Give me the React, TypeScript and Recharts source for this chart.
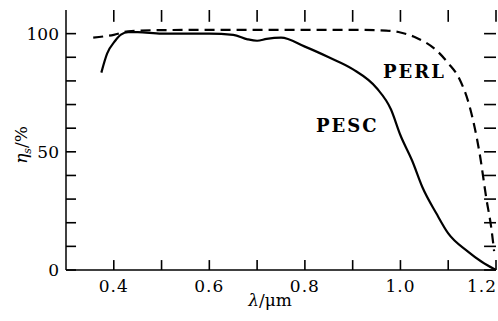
import React from 'react';
import { LineChart, Line, XAxis, YAxis, ReferenceLine } from 'recharts';

// wavelength ticks (um) and which of them get a label
const xTicks = [0.4, 0.5, 0.6, 0.7, 0.8, 0.9, 1.0, 1.1, 1.2];
const xLabels = ['0.4', '0.6', '0.8', '1.0', '1.2'];
const yTicks = [0, 10, 20, 30, 40, 50, 60, 70, 80, 90, 100];
const yLabels = ['0', '50', '100'];

// PESC, solid curve
const pescLambda = [0.374, 0.386, 0.403, 0.415, 0.43, 0.45, 0.5, 0.55, 0.6, 0.65, 0.68, 0.7, 0.72, 0.75, 0.8, 0.85, 0.9, 0.95, 0.98, 1.0, 1.025, 1.046, 1.075, 1.1, 1.14, 1.17, 1.2];
const pescEta = [83.5, 91.5, 97, 99.6, 100.6, 100.6, 100, 100, 100, 99.5, 97.6, 97, 97.8, 98.3, 94.5, 90, 85, 77, 68, 57, 46, 35, 24, 15.5, 8, 3.5, 0];

// PERL, dashed curve
const perlLambda = [0.357, 0.4, 0.43, 0.5, 0.6, 0.7, 0.8, 0.9, 0.97, 1.0, 1.033, 1.075, 1.1, 1.123, 1.145, 1.166, 1.18, 1.19, 1.196];
const perlEta = [98.3, 99.5, 101, 101.5, 101.6, 101.6, 101.6, 101.6, 101.3, 100.5, 98.3, 93, 87.5, 81, 69, 49, 30, 18, 8];

const pesc = pescLambda.map((l, i) => ({ lambda: l, eta: pescEta[i] }));
const perl = perlLambda.map((l, i) => ({ lambda: l, eta: perlEta[i] }));

const X_MIN = 0.3;
const X_MAX = 1.2;
const Y_MIN = 0;
const Y_MAX = 110;

const FONT = '"DejaVu Serif", "Liberation Serif", serif';

// labels only; the inward tick marks are drawn as reference segments
const BottomTick = ({ x, y, payload }: any) => {
  const label = payload.value.toFixed(1);
  const last = payload.value >= 1.2;
  if (!xLabels.includes(label)) return <g />;
  return (
    <text x={last ? 497 : x} y={y + 22} textAnchor={last ? 'end' : 'middle'} fontFamily={FONT} fontSize={17} letterSpacing={1} fill="#000">
      {label}
    </text>
  );
};

const LeftTick = ({ x, y, payload }: any) => {
  const label = String(payload.value);
  if (!yLabels.includes(label)) return <g />;
  return (
    <text x={x - 7} y={y + 6} textAnchor="end" fontFamily={FONT} fontSize={17} fill="#000">
      {label}
    </text>
  );
};

const tickStyle = { stroke: '#000', strokeWidth: 1.6 };

export default function App() {
  return (
    <div style={{ position: 'absolute', left: 0, top: 0, background: '#fff' }}>
      <LineChart width={498} height={321} margin={{ top: 10, right: 2, left: 0, bottom: 0 }}>
        <XAxis
          dataKey="lambda" type="number" domain={[X_MIN, X_MAX]} ticks={xTicks} interval={0}
          height={51} tickSize={0} tickMargin={0} tickLine={false} tick={<BottomTick />}
          axisLine={{ stroke: '#000', strokeWidth: 1.5 }} allowDataOverflow
        />
        <XAxis
          xAxisId="t" orientation="top" dataKey="lambda" type="number" domain={[X_MIN, X_MAX]}
          height={0} tick={false} tickLine={false}
          axisLine={{ stroke: '#000', strokeWidth: 1.5 }} allowDataOverflow
        />
        <YAxis
          type="number" domain={[Y_MIN, Y_MAX]} ticks={yTicks} interval={0} width={66}
          tickSize={0} tickMargin={0} tickLine={false} tick={<LeftTick />}
          axisLine={{ stroke: '#000', strokeWidth: 1.5 }} allowDataOverflow
        />
        <YAxis
          yAxisId="r" orientation="right" type="number" domain={[Y_MIN, Y_MAX]}
          width={0} tick={false} tickLine={false}
          axisLine={{ stroke: '#000', strokeWidth: 1.5 }} allowDataOverflow
        />
        {xTicks.map((t) => (
          <ReferenceLine key={`b${t}`} segment={[{ x: t, y: Y_MIN }, { x: t, y: Y_MIN + 4.2 }]} {...tickStyle} ifOverflow="visible" />
        ))}
        {xTicks.map((t) => (
          <ReferenceLine key={`t${t}`} segment={[{ x: t, y: Y_MAX }, { x: t, y: Y_MAX - 5 }]} {...tickStyle} ifOverflow="visible" />
        ))}
        {yTicks.map((v) => (
          <ReferenceLine key={`l${v}`} segment={[{ x: X_MIN, y: v }, { x: X_MIN + 0.021, y: v }]} {...tickStyle} ifOverflow="visible" />
        ))}
        {yTicks.map((v) => (
          <ReferenceLine key={`r${v}`} segment={[{ x: X_MAX, y: v }, { x: X_MAX - 0.025, y: v }]} {...tickStyle} ifOverflow="visible" />
        ))}
        <Line data={pesc} dataKey="eta" type="monotone" stroke="#000" strokeWidth={2.2} dot={false} isAnimationActive={false} />
        <Line data={perl} dataKey="eta" type="monotone" stroke="#000" strokeWidth={2.2} strokeDasharray="10 6" dot={false} isAnimationActive={false} />
        <text x={383} y={78} fontFamily={FONT} fontSize={18} fontWeight="bold" letterSpacing={2} fill="#000">PERL</text>
        <text x={316} y={132} fontFamily={FONT} fontSize={18} fontWeight="bold" letterSpacing={2} fill="#000">PESC</text>
        <text transform="translate(27,145) rotate(-90)" textAnchor="middle" fontFamily={FONT} fontSize={17} fill="#000">
          <tspan fontStyle="italic">η</tspan>
          <tspan fontStyle="italic" fontSize={11} dy={4}>s</tspan>
          <tspan dy={-4}>/%</tspan>
        </text>
        <text x={270} y={306} textAnchor="middle" fontFamily={FONT} fontSize={17} fill="#000">
          <tspan fontStyle="italic">λ</tspan>/μm
        </text>
      </LineChart>
    </div>
  );
}
